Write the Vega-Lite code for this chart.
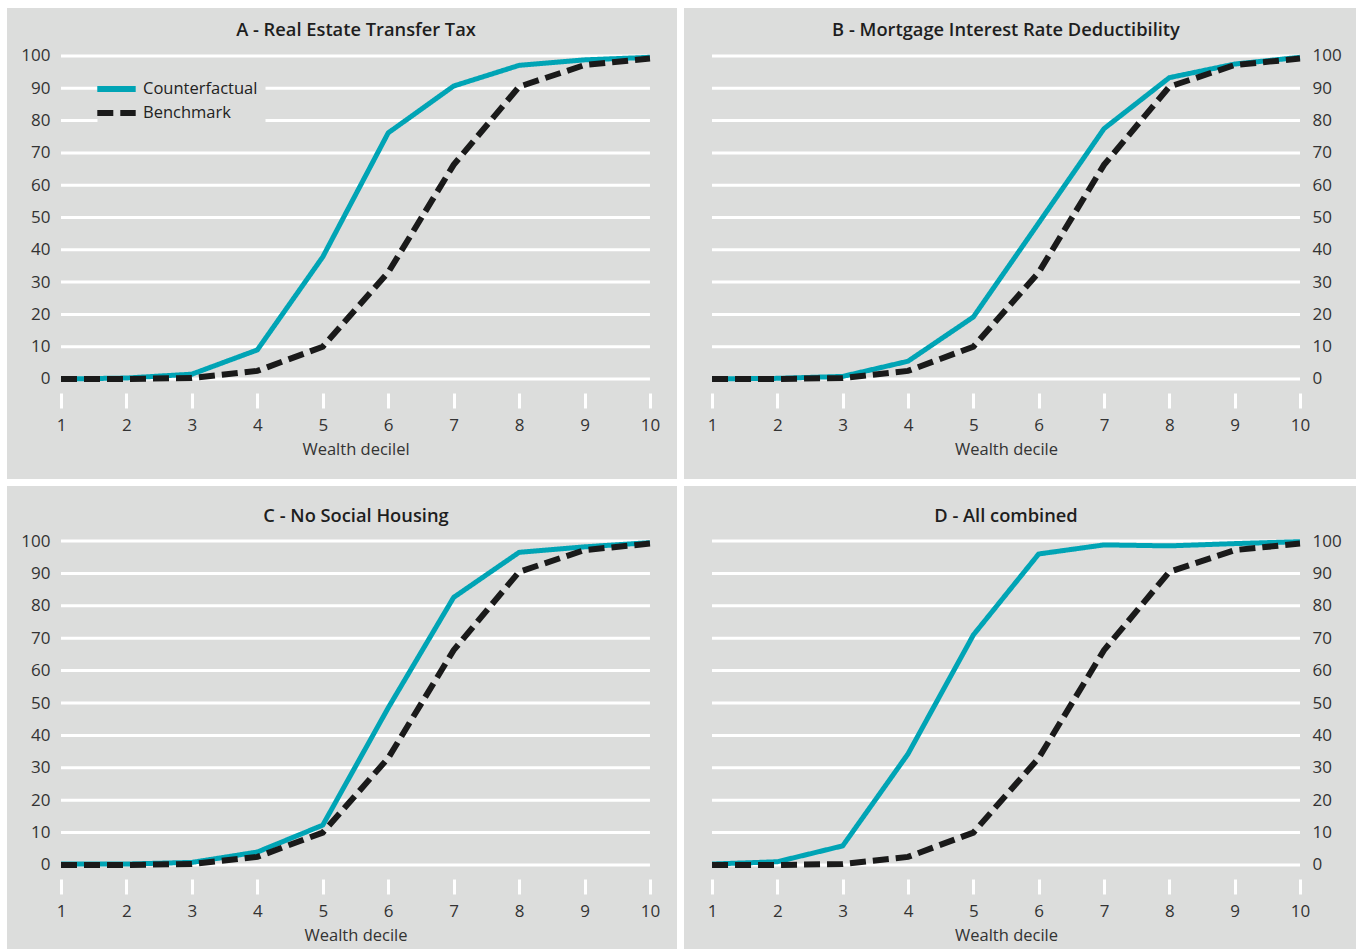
{
  "$schema": "https://vega.github.io/schema/vega-lite/v6.json",
  "background": "white",
  "padding": {"left": 7, "top": 8, "right": 0, "bottom": 0},
  "config": {
    "view": {"fill": "#dcdddc", "stroke": null},
    "font": "Open Sans",
    "title": {"fontSize": 18.3, "fontWeight": 600, "color": "#1e1e1e", "font": "Open Sans", "anchor": "middle", "frame": "group", "baseline": "alphabetic"},
    "axis": {"labelFontSize": 17, "labelColor": "#333333", "titleFontSize": 16.5, "titleFontWeight": "normal", "titleColor": "#333333", "grid": false, "domain": false, "labelFont": "Open Sans", "titleFont": "Open Sans"}
  },
  "datasets": {
    "grid": [{"g": 0}, {"g": 10}, {"g": 20}, {"g": 30}, {"g": 40}, {"g": 50}, {"g": 60}, {"g": 70}, {"g": 80}, {"g": 90}, {"g": 100}],
    "d": [
      {"panel": "A", "series": "Benchmark", "decile": 1, "value": 0},
      {"panel": "A", "series": "Benchmark", "decile": 2, "value": 0},
      {"panel": "A", "series": "Benchmark", "decile": 3, "value": 0.3},
      {"panel": "A", "series": "Benchmark", "decile": 4, "value": 2.5},
      {"panel": "A", "series": "Benchmark", "decile": 5, "value": 10},
      {"panel": "A", "series": "Benchmark", "decile": 6, "value": 33},
      {"panel": "A", "series": "Benchmark", "decile": 7, "value": 66.3},
      {"panel": "A", "series": "Benchmark", "decile": 8, "value": 90.5},
      {"panel": "A", "series": "Benchmark", "decile": 9, "value": 97.2},
      {"panel": "A", "series": "Benchmark", "decile": 10, "value": 99.2},
      {"panel": "A", "series": "Counterfactual", "decile": 1, "value": 0},
      {"panel": "A", "series": "Counterfactual", "decile": 2, "value": 0.3},
      {"panel": "A", "series": "Counterfactual", "decile": 3, "value": 1.5},
      {"panel": "A", "series": "Counterfactual", "decile": 4, "value": 9},
      {"panel": "A", "series": "Counterfactual", "decile": 5, "value": 37.8},
      {"panel": "A", "series": "Counterfactual", "decile": 6, "value": 76.2},
      {"panel": "A", "series": "Counterfactual", "decile": 7, "value": 90.7},
      {"panel": "A", "series": "Counterfactual", "decile": 8, "value": 97.1},
      {"panel": "A", "series": "Counterfactual", "decile": 9, "value": 98.8},
      {"panel": "A", "series": "Counterfactual", "decile": 10, "value": 99.6},
      {"panel": "B", "series": "Benchmark", "decile": 1, "value": 0},
      {"panel": "B", "series": "Benchmark", "decile": 2, "value": 0},
      {"panel": "B", "series": "Benchmark", "decile": 3, "value": 0.3},
      {"panel": "B", "series": "Benchmark", "decile": 4, "value": 2.5},
      {"panel": "B", "series": "Benchmark", "decile": 5, "value": 10},
      {"panel": "B", "series": "Benchmark", "decile": 6, "value": 33},
      {"panel": "B", "series": "Benchmark", "decile": 7, "value": 66.3},
      {"panel": "B", "series": "Benchmark", "decile": 8, "value": 90.5},
      {"panel": "B", "series": "Benchmark", "decile": 9, "value": 97.2},
      {"panel": "B", "series": "Benchmark", "decile": 10, "value": 99.2},
      {"panel": "B", "series": "Counterfactual", "decile": 1, "value": 0},
      {"panel": "B", "series": "Counterfactual", "decile": 2, "value": 0.2},
      {"panel": "B", "series": "Counterfactual", "decile": 3, "value": 0.8},
      {"panel": "B", "series": "Counterfactual", "decile": 4, "value": 5.5},
      {"panel": "B", "series": "Counterfactual", "decile": 5, "value": 19.2},
      {"panel": "B", "series": "Counterfactual", "decile": 6, "value": 48.3},
      {"panel": "B", "series": "Counterfactual", "decile": 7, "value": 77.5},
      {"panel": "B", "series": "Counterfactual", "decile": 8, "value": 93.3},
      {"panel": "B", "series": "Counterfactual", "decile": 9, "value": 97.5},
      {"panel": "B", "series": "Counterfactual", "decile": 10, "value": 99.6},
      {"panel": "C", "series": "Benchmark", "decile": 1, "value": 0},
      {"panel": "C", "series": "Benchmark", "decile": 2, "value": 0},
      {"panel": "C", "series": "Benchmark", "decile": 3, "value": 0.3},
      {"panel": "C", "series": "Benchmark", "decile": 4, "value": 2.5},
      {"panel": "C", "series": "Benchmark", "decile": 5, "value": 10},
      {"panel": "C", "series": "Benchmark", "decile": 6, "value": 33},
      {"panel": "C", "series": "Benchmark", "decile": 7, "value": 66.3},
      {"panel": "C", "series": "Benchmark", "decile": 8, "value": 90.5},
      {"panel": "C", "series": "Benchmark", "decile": 9, "value": 97.2},
      {"panel": "C", "series": "Benchmark", "decile": 10, "value": 99.2},
      {"panel": "C", "series": "Counterfactual", "decile": 1, "value": 0.3},
      {"panel": "C", "series": "Counterfactual", "decile": 2, "value": 0.3},
      {"panel": "C", "series": "Counterfactual", "decile": 3, "value": 0.8},
      {"panel": "C", "series": "Counterfactual", "decile": 4, "value": 4},
      {"panel": "C", "series": "Counterfactual", "decile": 5, "value": 12.3},
      {"panel": "C", "series": "Counterfactual", "decile": 6, "value": 48.5},
      {"panel": "C", "series": "Counterfactual", "decile": 7, "value": 82.6},
      {"panel": "C", "series": "Counterfactual", "decile": 8, "value": 96.5},
      {"panel": "C", "series": "Counterfactual", "decile": 9, "value": 98.2},
      {"panel": "C", "series": "Counterfactual", "decile": 10, "value": 99.5},
      {"panel": "D", "series": "Benchmark", "decile": 1, "value": 0},
      {"panel": "D", "series": "Benchmark", "decile": 2, "value": 0},
      {"panel": "D", "series": "Benchmark", "decile": 3, "value": 0.3},
      {"panel": "D", "series": "Benchmark", "decile": 4, "value": 2.5},
      {"panel": "D", "series": "Benchmark", "decile": 5, "value": 10},
      {"panel": "D", "series": "Benchmark", "decile": 6, "value": 33},
      {"panel": "D", "series": "Benchmark", "decile": 7, "value": 66.3},
      {"panel": "D", "series": "Benchmark", "decile": 8, "value": 90.5},
      {"panel": "D", "series": "Benchmark", "decile": 9, "value": 97.2},
      {"panel": "D", "series": "Benchmark", "decile": 10, "value": 99.2},
      {"panel": "D", "series": "Counterfactual", "decile": 1, "value": 0.3},
      {"panel": "D", "series": "Counterfactual", "decile": 2, "value": 1},
      {"panel": "D", "series": "Counterfactual", "decile": 3, "value": 5.9},
      {"panel": "D", "series": "Counterfactual", "decile": 4, "value": 34.3},
      {"panel": "D", "series": "Counterfactual", "decile": 5, "value": 71},
      {"panel": "D", "series": "Counterfactual", "decile": 6, "value": 96},
      {"panel": "D", "series": "Counterfactual", "decile": 7, "value": 98.8},
      {"panel": "D", "series": "Counterfactual", "decile": 8, "value": 98.5},
      {"panel": "D", "series": "Counterfactual", "decile": 9, "value": 99.2},
      {"panel": "D", "series": "Counterfactual", "decile": 10, "value": 99.8}
    ]
  },
  "spacing": 7,
  "resolve": {"scale": {"color": "independent", "strokeDash": "independent"}, "legend": {"color": "independent", "strokeDash": "independent"}},
  "vconcat": [
    {
      "spacing": 7,
      "resolve": {"scale": {"color": "independent", "strokeDash": "independent"}, "legend": {"color": "independent", "strokeDash": "independent"}},
      "hconcat": [
        {
          "width": 670, "height": 471,
          "title": {"text": "A - Real Estate Transfer Tax", "offset": -32, "dx": 14},
          "layer": [
            {"data": {"name": "grid"}, "mark": {"type": "rule", "color": "white", "strokeWidth": 3},
             "encoding": {
               "y": {"field": "g", "type": "quantitative", "scale": {"domain": [-30.96, 114.86], "nice": false, "zero": false},
                     "axis": {"values": [0, 10, 20, 30, 40, 50, 60, 70, 80, 90, 100], "ticks": false, "labelPadding": 4, "offset": -47, "title": null, "orient": "left"}},
               "x": {"datum": 1, "type": "quantitative", "scale": {"domain": [0.175, 10.413], "nice": false, "zero": false},
                     "axis": {"values": [1, 2, 3, 4, 5, 6, 7, 8, 9, 10], "format": "d", "tickColor": "white", "tickWidth": 3, "tickSize": 15, "labelPadding": 9, "offset": -86, "title": "Wealth decilel", "titleX": 348.5, "titlePadding": 8, "labelFlush": false}},
               "x2": {"datum": 10}
             }},
            {"data": {"name": "d"}, "transform": [{"filter": "datum.panel == 'A' && datum.series == 'Counterfactual'"}],
             "mark": {"type": "line", "strokeWidth": 5},
             "encoding": {
               "x": {"field": "decile", "type": "quantitative", "scale": {"domain": [0.175, 10.413], "nice": false, "zero": false}},
               "y": {"field": "value", "type": "quantitative", "scale": {"domain": [-30.96, 114.86], "nice": false, "zero": false}},
               "color": {"field": "series", "type": "nominal", "scale": {"domain": ["Counterfactual", "Benchmark"], "range": ["#00a4b5", "#1a1a1a"]},
                 "legend": {"orient": "none", "legendX": 90.5, "legendY": 62, "title": null, "fillColor": "#dcdddc", "padding": 8, "symbolType": "M-2.4,0H2.4", "symbolSize": 256, "symbolStrokeWidth": 6, "labelFontSize": 16.5, "labelColor": "#222222", "labelOffset": 15.5, "rowPadding": 0, "labelFont": "Open Sans"}},
               "strokeDash": {"field": "series", "type": "nominal", "scale": {"domain": ["Counterfactual", "Benchmark"], "range": [[1, 0], [16, 7]]},
                 "legend": {"orient": "none", "legendX": 90.5, "legendY": 62, "title": null, "fillColor": "#dcdddc", "padding": 8, "symbolType": "M-2.4,0H2.4", "symbolSize": 256, "symbolStrokeWidth": 6, "labelFontSize": 16.5, "labelColor": "#222222", "labelOffset": 15.5, "rowPadding": 0, "labelFont": "Open Sans"}}
             }},
            {"data": {"name": "d"}, "transform": [{"filter": "datum.panel == 'A' && datum.series == 'Benchmark'"}],
             "mark": {"type": "line", "strokeWidth": 6},
             "encoding": {
               "x": {"field": "decile", "type": "quantitative", "scale": {"domain": [0.175, 10.413], "nice": false, "zero": false}},
               "y": {"field": "value", "type": "quantitative", "scale": {"domain": [-30.96, 114.86], "nice": false, "zero": false}},
               "color": {"field": "series", "type": "nominal", "scale": {"domain": ["Counterfactual", "Benchmark"], "range": ["#00a4b5", "#1a1a1a"]}},
               "strokeDash": {"field": "series", "type": "nominal", "scale": {"domain": ["Counterfactual", "Benchmark"], "range": [[1, 0], [16, 7]]}}
             }}
          ]
        },
        {
          "width": 672, "height": 471,
          "title": {"text": "B - Mortgage Interest Rate Deductibility", "offset": -32, "dx": -14},
          "layer": [
            {"data": {"name": "grid"}, "mark": {"type": "rule", "color": "white", "strokeWidth": 3},
             "encoding": {
               "y": {"field": "g", "type": "quantitative", "scale": {"domain": [-30.96, 114.86], "nice": false, "zero": false},
                     "axis": {"values": [0, 10, 20, 30, 40, 50, 60, 70, 80, 90, 100], "ticks": false, "labelPadding": 4, "offset": -48, "title": null, "orient": "right"}},
               "x": {"datum": 1, "type": "quantitative", "scale": {"domain": [0.571, 10.857], "nice": false, "zero": false},
                     "axis": {"values": [1, 2, 3, 4, 5, 6, 7, 8, 9, 10], "format": "d", "tickColor": "white", "tickWidth": 3, "tickSize": 15, "labelPadding": 9, "offset": -86, "title": "Wealth decile", "titleX": 322, "titlePadding": 8, "labelFlush": false}},
               "x2": {"datum": 10}
             }},
            {"data": {"name": "d"}, "transform": [{"filter": "datum.panel == 'B' && datum.series == 'Counterfactual'"}],
             "mark": {"type": "line", "strokeWidth": 5},
             "encoding": {
               "x": {"field": "decile", "type": "quantitative", "scale": {"domain": [0.571, 10.857], "nice": false, "zero": false}},
               "y": {"field": "value", "type": "quantitative", "scale": {"domain": [-30.96, 114.86], "nice": false, "zero": false}},
               "color": {"field": "series", "type": "nominal", "scale": {"domain": ["Counterfactual", "Benchmark"], "range": ["#00a4b5", "#1a1a1a"]}, "legend": null},
               "strokeDash": {"field": "series", "type": "nominal", "scale": {"domain": ["Counterfactual", "Benchmark"], "range": [[1, 0], [16, 7]]}, "legend": null}
             }},
            {"data": {"name": "d"}, "transform": [{"filter": "datum.panel == 'B' && datum.series == 'Benchmark'"}],
             "mark": {"type": "line", "strokeWidth": 6},
             "encoding": {
               "x": {"field": "decile", "type": "quantitative", "scale": {"domain": [0.571, 10.857], "nice": false, "zero": false}},
               "y": {"field": "value", "type": "quantitative", "scale": {"domain": [-30.96, 114.86], "nice": false, "zero": false}},
               "color": {"field": "series", "type": "nominal", "scale": {"domain": ["Counterfactual", "Benchmark"], "range": ["#00a4b5", "#1a1a1a"]}, "legend": null},
               "strokeDash": {"field": "series", "type": "nominal", "scale": {"domain": ["Counterfactual", "Benchmark"], "range": [[1, 0], [16, 7]]}, "legend": null}
             }}
          ]
        }
      ]
    },
    {
      "spacing": 7,
      "resolve": {"scale": {"color": "independent", "strokeDash": "independent"}, "legend": {"color": "independent", "strokeDash": "independent"}},
      "hconcat": [
        {
          "width": 670, "height": 463,
          "title": {"text": "C - No Social Housing", "offset": -40, "dx": 14},
          "layer": [
            {"data": {"name": "grid"}, "mark": {"type": "rule", "color": "white", "strokeWidth": 3},
             "encoding": {
               "y": {"field": "g", "type": "quantitative", "scale": {"domain": [-25.93, 116.98], "nice": false, "zero": false},
                     "axis": {"values": [0, 10, 20, 30, 40, 50, 60, 70, 80, 90, 100], "ticks": false, "labelPadding": 4, "offset": -47, "title": null, "orient": "left"}},
               "x": {"datum": 1, "type": "quantitative", "scale": {"domain": [0.175, 10.413], "nice": false, "zero": false},
                     "axis": {"values": [1, 2, 3, 4, 5, 6, 7, 8, 9, 10], "format": "d", "tickColor": "white", "tickWidth": 3, "tickSize": 15, "labelPadding": 9, "offset": -70, "title": "Wealth decile", "titleX": 348.5, "titlePadding": 8, "labelFlush": false}},
               "x2": {"datum": 10}
             }},
            {"data": {"name": "d"}, "transform": [{"filter": "datum.panel == 'C' && datum.series == 'Counterfactual'"}],
             "mark": {"type": "line", "strokeWidth": 5},
             "encoding": {
               "x": {"field": "decile", "type": "quantitative", "scale": {"domain": [0.175, 10.413], "nice": false, "zero": false}},
               "y": {"field": "value", "type": "quantitative", "scale": {"domain": [-25.93, 116.98], "nice": false, "zero": false}},
               "color": {"field": "series", "type": "nominal", "scale": {"domain": ["Counterfactual", "Benchmark"], "range": ["#00a4b5", "#1a1a1a"]}, "legend": null},
               "strokeDash": {"field": "series", "type": "nominal", "scale": {"domain": ["Counterfactual", "Benchmark"], "range": [[1, 0], [16, 7]]}, "legend": null}
             }},
            {"data": {"name": "d"}, "transform": [{"filter": "datum.panel == 'C' && datum.series == 'Benchmark'"}],
             "mark": {"type": "line", "strokeWidth": 6},
             "encoding": {
               "x": {"field": "decile", "type": "quantitative", "scale": {"domain": [0.175, 10.413], "nice": false, "zero": false}},
               "y": {"field": "value", "type": "quantitative", "scale": {"domain": [-25.93, 116.98], "nice": false, "zero": false}},
               "color": {"field": "series", "type": "nominal", "scale": {"domain": ["Counterfactual", "Benchmark"], "range": ["#00a4b5", "#1a1a1a"]}, "legend": null},
               "strokeDash": {"field": "series", "type": "nominal", "scale": {"domain": ["Counterfactual", "Benchmark"], "range": [[1, 0], [16, 7]]}, "legend": null}
             }}
          ]
        },
        {
          "width": 672, "height": 463,
          "title": {"text": "D - All combined", "offset": -40, "dx": -14},
          "layer": [
            {"data": {"name": "grid"}, "mark": {"type": "rule", "color": "white", "strokeWidth": 3},
             "encoding": {
               "y": {"field": "g", "type": "quantitative", "scale": {"domain": [-25.93, 116.98], "nice": false, "zero": false},
                     "axis": {"values": [0, 10, 20, 30, 40, 50, 60, 70, 80, 90, 100], "ticks": false, "labelPadding": 4, "offset": -48, "title": null, "orient": "right"}},
               "x": {"datum": 1, "type": "quantitative", "scale": {"domain": [0.571, 10.857], "nice": false, "zero": false},
                     "axis": {"values": [1, 2, 3, 4, 5, 6, 7, 8, 9, 10], "format": "d", "tickColor": "white", "tickWidth": 3, "tickSize": 15, "labelPadding": 9, "offset": -70, "title": "Wealth decile", "titleX": 322, "titlePadding": 8, "labelFlush": false}},
               "x2": {"datum": 10}
             }},
            {"data": {"name": "d"}, "transform": [{"filter": "datum.panel == 'D' && datum.series == 'Counterfactual'"}],
             "mark": {"type": "line", "strokeWidth": 5},
             "encoding": {
               "x": {"field": "decile", "type": "quantitative", "scale": {"domain": [0.571, 10.857], "nice": false, "zero": false}},
               "y": {"field": "value", "type": "quantitative", "scale": {"domain": [-25.93, 116.98], "nice": false, "zero": false}},
               "color": {"field": "series", "type": "nominal", "scale": {"domain": ["Counterfactual", "Benchmark"], "range": ["#00a4b5", "#1a1a1a"]}, "legend": null},
               "strokeDash": {"field": "series", "type": "nominal", "scale": {"domain": ["Counterfactual", "Benchmark"], "range": [[1, 0], [16, 7]]}, "legend": null}
             }},
            {"data": {"name": "d"}, "transform": [{"filter": "datum.panel == 'D' && datum.series == 'Benchmark'"}],
             "mark": {"type": "line", "strokeWidth": 6},
             "encoding": {
               "x": {"field": "decile", "type": "quantitative", "scale": {"domain": [0.571, 10.857], "nice": false, "zero": false}},
               "y": {"field": "value", "type": "quantitative", "scale": {"domain": [-25.93, 116.98], "nice": false, "zero": false}},
               "color": {"field": "series", "type": "nominal", "scale": {"domain": ["Counterfactual", "Benchmark"], "range": ["#00a4b5", "#1a1a1a"]}, "legend": null},
               "strokeDash": {"field": "series", "type": "nominal", "scale": {"domain": ["Counterfactual", "Benchmark"], "range": [[1, 0], [16, 7]]}, "legend": null}
             }}
          ]
        }
      ]
    }
  ]
}
